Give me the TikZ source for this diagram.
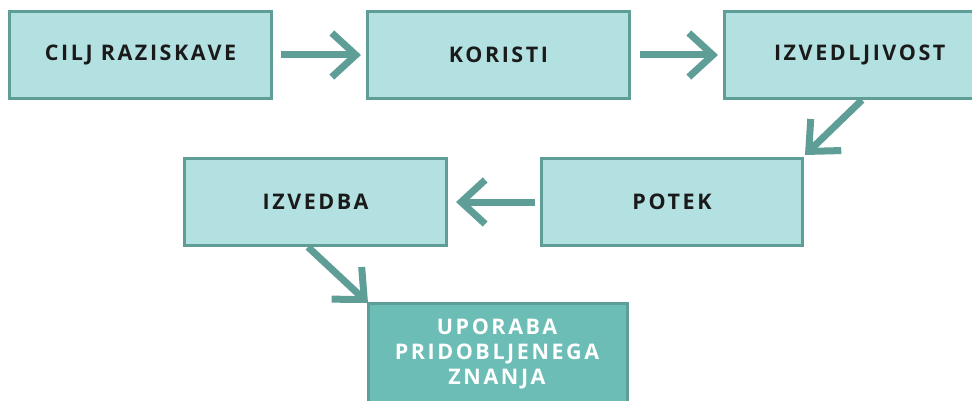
\documentclass[tikz,border=0pt]{standalone}
\usepackage{fontspec}
\setmainfont{Open Sans}[BoldFont={* Bold},LetterSpace=12]
\usetikzlibrary{arrows.meta,calc}
\definecolor{boxfill}{HTML}{B3E1E1}
\definecolor{boxdraw}{HTML}{5E9E97}
\definecolor{arrowc}{HTML}{5E9E97}
\definecolor{darkfill}{HTML}{6CBDB5}
\definecolor{txt}{HTML}{1A1A1A}
\begin{document}
\begin{tikzpicture}[x=1pt,y=-1pt,
  stepbox/.style={draw=boxdraw,fill=boxfill,line width=3pt,minimum width=262pt,minimum height=87pt,inner sep=0pt,anchor=north west,font=\bfseries\fontsize{21.5}{25}\selectfont,text=txt},
  conn/.style={draw=arrowc,line width=7pt,-{Straight Barb[length=24pt,width=44pt,line width=7pt]}}]
\useasboundingbox (0,0) rectangle (972,401);
\clip (0,0) rectangle (972,401);
\node[stepbox] (cilj) at (8,10) {CILJ RAZISKAVE};
\node[stepbox] (kor) at (366,10) {KORISTI};
\node[stepbox,minimum width=268pt,text width=249pt,align=left] (izv) at (723,10) {\hspace*{40pt}IZVEDLJIVOST};
\node[stepbox,minimum width=261pt] (pot) at (540,157) {POTEK};
\node[stepbox] (izb) at (183,157) {IZVEDBA};
\draw[draw=boxdraw,fill=darkfill,line width=3pt] (368,303) rectangle (627,430);
\node[font=\bfseries\fontsize{21.5}{25}\selectfont,text=white,align=center] (upo) at (497,354) {UPORABA\\PRIDOBLJENEGA\\ZNANJA};
\coordinate (upoNW) at (368,303);
\draw[conn] ($(cilj.east)+(8,0)$) -- ($(kor.west)+(-5,0)$);
\draw[conn] ($(kor.east)+(9,0)$) -- ($(izv.west)+(-5,0)$);
\draw[conn] ($(izv.south west)+(139,0)$) -- ($(pot.north east)+(1,-2)$);
\draw[conn] ($(pot.west)+(-5,0)$) -- ($(izb.east)+(8,0)$);
\draw[conn] ($(izb.south west)+(125,0)$) -- (upoNW);
\end{tikzpicture}
\end{document}
